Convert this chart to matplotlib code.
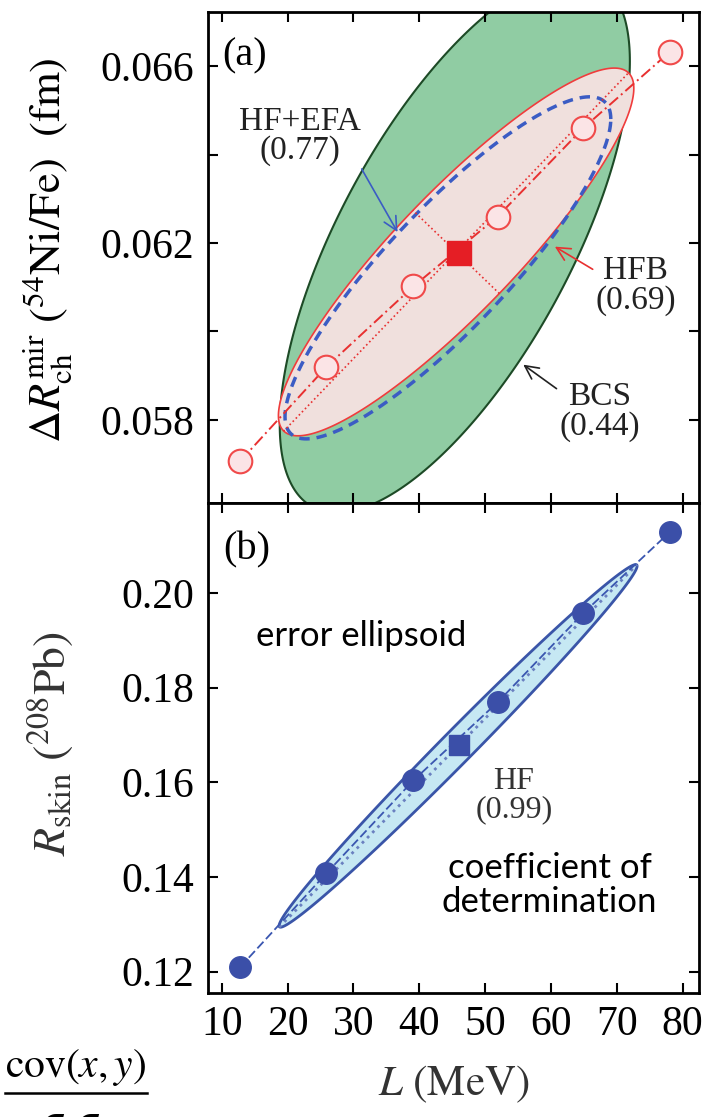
import numpy as np
import matplotlib
matplotlib.use("Agg")
import matplotlib.pyplot as plt
from matplotlib.lines import Line2D
from matplotlib.ticker import MultipleLocator

plt.rcParams['font.family'] = 'serif'
plt.rcParams['font.serif'] = ['Liberation Serif', 'DejaVu Serif']
plt.rcParams['mathtext.fontset'] = 'stix'

# model points (L in MeV)
L_pts = [12.8, 25.9, 39.1, 51.9, 64.9, 78.1]
dR_pts = [0.05707, 0.05920, 0.06102, 0.06260, 0.06460, 0.06633]
Rskin_pts = [0.1210, 0.1408, 0.1604, 0.1769, 0.1957, 0.2129]
L_ref = 46.0
dR_ref = 0.06177
Rskin_ref = 0.1678

# error ellipses: centre L, centre y, sigma L, sigma y, correlation
bcs = (45.4, 0.0620, 26.6, 0.0061, 0.675)
hfb = (45.6, 0.0618, 27.0, 0.00416, 0.89)
hfefa = (44.35, 0.06144, 24.75, 0.00387, 0.87)
hf_b = (45.9, 0.1677, 27.2, 0.0383, 0.992)

x_ticks = [10, 20, 30, 40, 50, 60, 70, 80]
ya_ticks = [0.058, 0.062, 0.066]
yb_ticks = [0.12, 0.14, 0.16, 0.18, 0.20]


def ellipse(cx, cy, sx, sy, rho, n=360):
    t = np.linspace(0, 2 * np.pi, n, endpoint=False)
    x = cx + sx * np.cos(t)
    y = cy + sy * (rho * np.cos(t) + np.sqrt(1 - rho ** 2) * np.sin(t))
    return np.append(x, x[0]), np.append(y, y[0])


def principal_axes(ax, x, y):
    # axes of the ellipse as seen on screen (minor, major)
    pts = ax.transData.transform(np.column_stack([x[:-1], y[:-1]]))
    c = pts.mean(axis=0)
    w, v = np.linalg.eigh(np.cov((pts - c).T))
    out = []
    for i in range(2):
        half = np.sqrt(2 * w[i])
        seg = np.array([c - v[:, i] * half, c + v[:, i] * half])
        out.append(ax.transData.inverted().transform(seg))
    return out


fig = plt.figure(figsize=(7.18, 11.17), dpi=100)
ax = fig.add_axes([0.2897, 0.5497, 0.6838, 0.4396])
ax2 = fig.add_axes([0.2897, 0.1110, 0.6838, 0.4387], sharex=ax)

ax.set_xlim(7.9, 82.5)
ax.set_ylim(0.05612, 0.06723)
ax2.set_ylim(0.1155, 0.219)

# ---- panel (a)
ex, ey = ellipse(*bcs)
ax.fill(ex, ey, facecolor='#90cca3', edgecolor='#1d4a26', lw=1.5, zorder=1)
hx, hy = ellipse(*hfb)
ax.fill(hx, hy, facecolor='#f0e0dd', edgecolor='#f03c3c', lw=1.2, zorder=2)
fx, fy = ellipse(*hfefa)
ax.plot(fx, fy, color='#3b5cc4', lw=2.5, ls=(0, (3.0, 2.0)), zorder=3)
minor, major = principal_axes(ax, hx, hy)
ax.plot(minor[:, 0], minor[:, 1], color='#e83030', lw=1.2, ls=':', zorder=4)
ax.plot(major[:, 0], major[:, 1], color='#e83030', lw=1.2, ls=':', zorder=4)
ax.plot(L_pts, dR_pts, color='#e83030', lw=1.4, ls=(0, (6, 2, 1, 2)), zorder=4)
ax.plot(L_pts, dR_pts, 'o', ms=17, mfc='#fbe4e6', mec='#f04a4a', mew=1.5, zorder=5)
ax.plot([L_ref], [dR_ref], 's', ms=17, color='#e51e25', zorder=5)

ax.annotate('HF+EFA\n(0.77)', xy=(36.7, 0.06225), xytext=(21.9, 0.06442),
            ha='center', va='center', fontsize=24, color='#222222', linespacing=0.95,
            arrowprops=dict(arrowstyle='->', color='#3b5cc4', lw=1.2, shrinkA=0, shrinkB=0,
                            relpos=(0.95, 0.15)))
ax.annotate('HFB\n(0.69)', xy=(60.6, 0.06192), xytext=(72.9, 0.06103),
            ha='center', va='center', fontsize=24, color='#222222', linespacing=0.95,
            arrowprops=dict(arrowstyle='->', color='#e83030', lw=1.2, shrinkA=0, shrinkB=0,
                            relpos=(0.0, 0.75)))
ax.annotate('BCS\n(0.44)', xy=(55.8, 0.05925), xytext=(67.4, 0.05819),
            ha='center', va='center', fontsize=24, color='#222222', linespacing=0.95,
            arrowprops=dict(arrowstyle='->', color='#222222', lw=1.2, shrinkA=0, shrinkB=0,
                            relpos=(0.1, 0.75)))
ax.text(0.075, 0.91, '(a)', transform=ax.transAxes, ha='center', va='center', fontsize=29)

ax.set_yticks(ya_ticks)
ax.yaxis.set_minor_locator(MultipleLocator(0.002))
ax.set_yticklabels(['%.3f' % v for v in ya_ticks])
ax.set_ylabel(r'$\Delta R_{\rm ch}^{\rm mir}\ (^{54}{\rm Ni/Fe})\ \ ({\rm fm})$', fontsize=32)
ax.yaxis.set_label_coords(-0.27, 0.515)
ax.tick_params(labelbottom=False)

# ---- panel (b)
bx, by = ellipse(*hf_b)
ax2.fill(bx, by, facecolor='#c6e8f3', edgecolor='#3a55a8', lw=2, zorder=2)
minor_b, major_b = principal_axes(ax2, bx, by)
ax2.plot(major_b[:, 0], major_b[:, 1], color='#6a80c0', lw=2, ls=':', zorder=3)
ax2.plot(L_pts, Rskin_pts, color='#3a56b0', lw=1.3, ls=(0, (5, 2)), zorder=3)
ax2.plot(L_pts, Rskin_pts, 'o', ms=15.5, color='#3b4fa8', zorder=5)
ax2.plot([L_ref], [Rskin_ref], 's', ms=15, color='#3b4fa8', zorder=5)

ax2.text(54.4, 0.1572, 'HF\n(0.99)', ha='center', va='center', fontsize=23,
         color='#333333', linespacing=0.95)
ax2.text(31.1, 0.1909, 'error ellipsoid', ha='center', va='center', fontsize=25,
         family='Lato', color='black')
ax2.text(59.8, 0.1383, 'coefficient of\ndetermination', ha='center', va='center',
         fontsize=25, family='Lato', color='black', linespacing=1.1)
ax2.text(0.079, 0.904, '(b)', transform=ax2.transAxes, ha='center', va='center', fontsize=29)

ax2.set_yticks(yb_ticks)
ax2.set_yticklabels(['%.2f' % v for v in yb_ticks])
ax2.set_xticks(x_ticks)
ax2.set_ylabel(r'$R_{\rm skin}\ (^{208}{\rm Pb})$', fontsize=33, color='#333333')
ax2.yaxis.set_label_coords(-0.27, 0.51)
ax2.set_xlabel(r'$L\ ({\rm MeV})$', fontsize=31, color='#333333')
ax2.xaxis.set_label_coords(0.5, -0.145)

for a in (ax, ax2):
    a.tick_params(which='both', direction='in', length=7, width=1.5,
                  top=True, right=True, labelsize=30)
    a.tick_params(axis='y', pad=10)
    a.tick_params(axis='x', pad=9)
    for s in a.spines.values():
        s.set_linewidth(2)

# Pearson formula fragment at the bottom left (cut by the lower edge, as in the source)
fig.text(76 / 718, 1 - 1068 / 1117, r'$\mathrm{cov}(x,y)$', ha='center', va='center', fontsize=30)
fig.add_artist(Line2D([5 / 718, 147 / 718], [1 - 1093 / 1117] * 2,
                      transform=fig.transFigure, color='black', lw=1.8))
fig.text(76 / 718, 1 - 1108 / 1117, r'$\sigma_x\sigma_y$', ha='center', va='top', fontsize=30)

fig.savefig('out.png', dpi=100)
